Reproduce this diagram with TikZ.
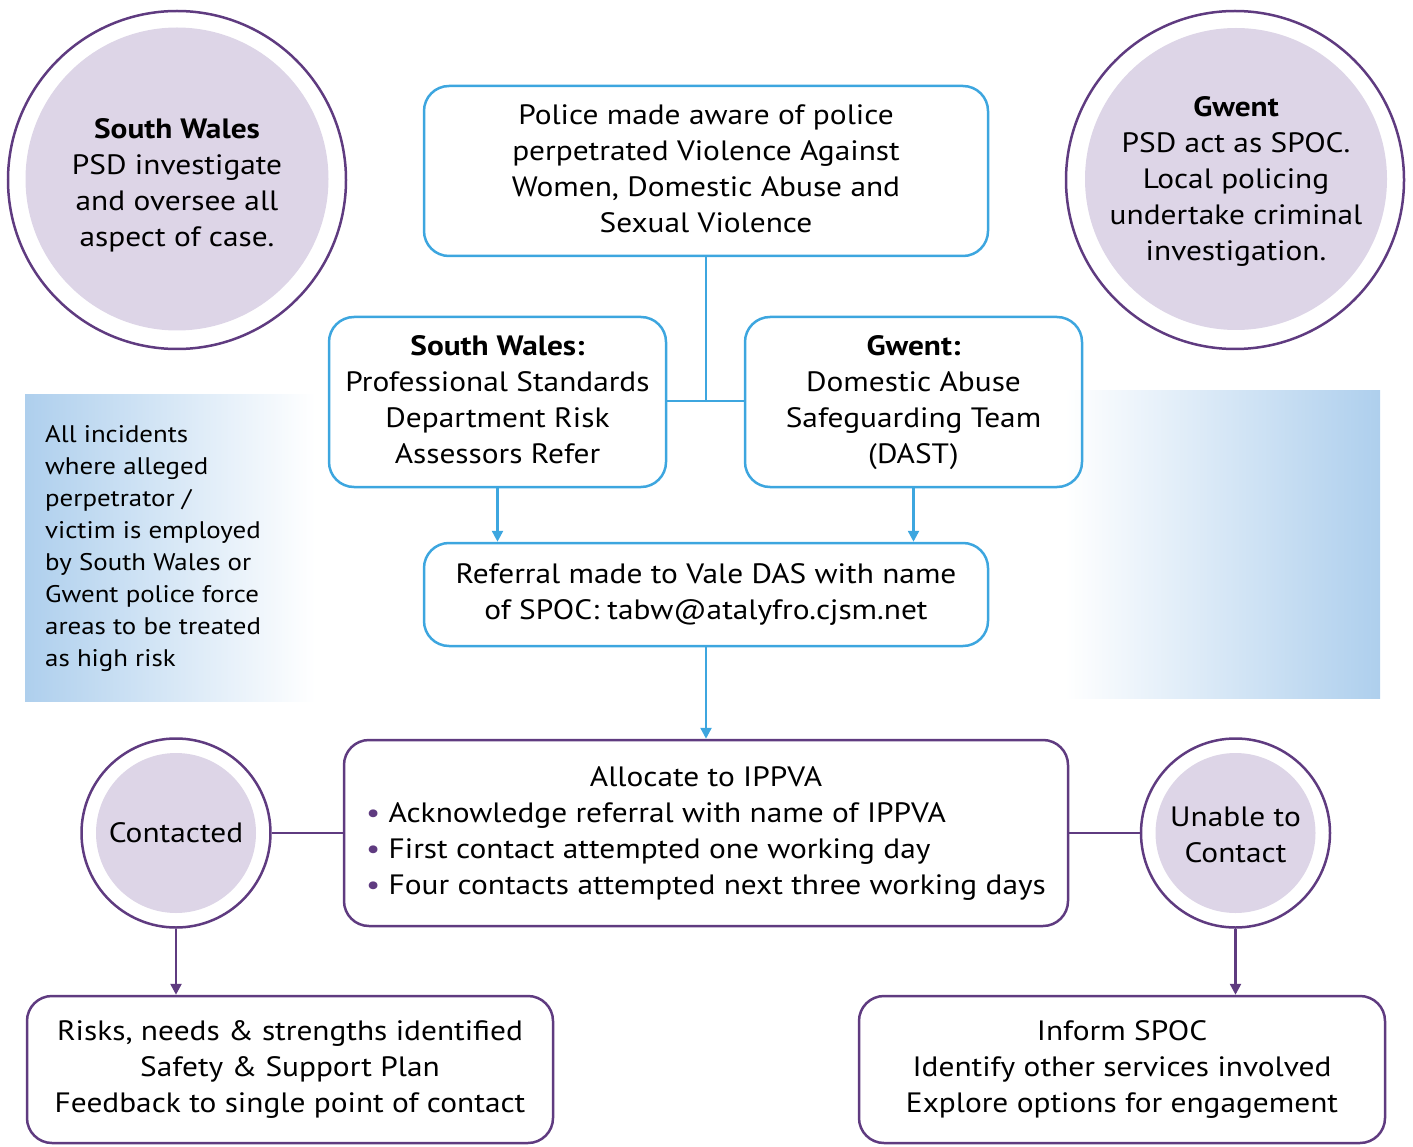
\documentclass[tikz,border=0pt]{standalone}
\usepackage{fontspec}
\setmainfont[FakeStretch=1.12]{PT Sans}
\usetikzlibrary{arrows.meta}
\definecolor{bl}{HTML}{3DA6DF}
\definecolor{purp}{HTML}{5F3B80}
\definecolor{lav}{HTML}{DDD5E7}
\definecolor{gblue}{HTML}{AECFED}
\newcommand{\tb}[1]{\begin{tabular}{@{}c@{}}#1\end{tabular}}
\begin{document}
\begin{tikzpicture}[x=1pt,y=-1pt,
  txt/.style={font=\fontsize{28}{36}\selectfont, text=black},
  bbox/.style={draw=bl, line width=2.5pt, rounded corners=25pt, inner sep=0pt, txt},
  pbox/.style={draw=purp, line width=2.5pt, rounded corners=25pt, inner sep=0pt, txt},
  ring/.style={circle, draw=purp, line width=2.5pt, inner sep=0pt},
  disc/.style={circle, fill=lav, inner sep=0pt},
  barrow/.style={draw=bl, line width=2.5pt, -{Triangle[length=11pt,width=11pt]}},
  parrow/.style={draw=purp, line width=2.5pt, -{Triangle[length=11pt,width=11pt]}},
  bline/.style={draw=bl, line width=2.5pt},
  pline/.style={draw=purp, line width=2.5pt}]
\useasboundingbox (0,0) rectangle (1413,1147);

% gradient panels
\shade[left color=gblue, right color=white] (25,394) rectangle (315,701);
\shade[left color=white, right color=gblue] (1065,390) rectangle (1380,698);
\node[anchor=north west, inner sep=0pt, align=left, font=\fontsize{24}{32}\selectfont] (note) at (45,425)
 {All incidents\\where alleged\\perpetrator /\\victim is employed\\by South Wales or\\Gwent police force\\areas to be treated\\as high risk};

% top circles
\node[ring, minimum size=338pt] (lring) at (177,180) {};
\node[disc, minimum size=303pt] (ldisc) at (177,179) {};
\node[txt, inner sep=0pt] (ltext) at (177,185) {\tb{\textbf{South Wales}\\PSD investigate\\and oversee all\\aspect of case.}};
\node[ring, minimum size=338pt] (rring) at (1235,180) {};
\node[disc, minimum size=302pt] (rdisc) at (1236,179) {};
\node[txt, inner sep=0pt] (rtext) at (1236,181) {\tb{\textbf{Gwent}\\PSD act as SPOC.\\Local policing\\undertake criminal\\investigation.}};

% boxes
\node[bbox, minimum width=564pt, minimum height=170pt] (top) at (706,171) {\tb{Police made aware of police\\perpetrated Violence Against\\Women, Domestic Abuse and\\Sexual Violence}};
\node[bbox, minimum width=337pt, minimum height=170pt] (sw) at (497.5,402) {\tb{\textbf{South Wales:}\\Professional Standards\\Department Risk\\Assessors Refer}};
\node[bbox, minimum width=337pt, minimum height=170pt] (gw) at (913.5,402) {\tb{\textbf{Gwent:}\\Domestic Abuse\\Safeguarding Team\\(DAST)}};
\node[bbox, minimum width=564pt, minimum height=103pt] (ref) at (706,594.5) {\tb{Referral made to Vale DAS with name\\of SPOC: tabw@atalyfro.cjsm.net}};
\node[pbox, minimum width=724pt, minimum height=186pt] (alloc) at (706,833)
 {\begin{tabular}{@{}l@{}}\multicolumn{1}{@{}c@{}}{Allocate to IPPVA}\\
  \textcolor{purp}{•} Acknowledge referral with name of IPPVA\\
  \textcolor{purp}{•} First contact attempted one working day\\
  \textcolor{purp}{•} Four contacts attempted next three working days\end{tabular}};

% small circles
\node[ring, minimum size=189pt] (cring) at (176,833) {};
\node[disc, minimum size=160pt] (cdisc) at (176,833) {};
\node[txt, inner sep=0pt] (ctext) at (176,835) {\tb{Contacted}};
\node[ring, minimum size=189pt] (uring) at (1235.5,833) {};
\node[disc, minimum size=160pt] (udisc) at (1235.5,833) {};
\node[txt, inner sep=0pt] (utext) at (1235.5,837) {\tb{Unable to\\Contact}};

% bottom boxes
\node[pbox, minimum width=526pt, minimum height=147pt] (bl) at (290,1069.5) {\tb{Risks, needs \& strengths identified\\Safety \& Support Plan\\Feedback to single point of contact}};
\node[pbox, minimum width=526pt, minimum height=147pt] (br) at (1122,1069.5) {\tb{Inform SPOC\\Identify other services involved\\Explore options for engagement}};

% connectors
\coordinate (junc) at (706,401);
\draw[bline] (top.south) -- (junc);
\draw[bline] (sw.east |- junc) -- (gw.west |- junc);
\draw[barrow] (sw.south) -- (sw.south |- ref.north);
\draw[barrow] (gw.south) -- (gw.south |- ref.north);
\draw[barrow] (ref.south) -- (alloc.north);
\draw[pline] (cring.east) -- (alloc.west);
\draw[pline] (alloc.east) -- (uring.west);
\draw[parrow] (cring.south) -- (cring.south |- bl.north);
\draw[parrow] (uring.south) -- (uring.south |- br.north);
\end{tikzpicture}
\end{document}
